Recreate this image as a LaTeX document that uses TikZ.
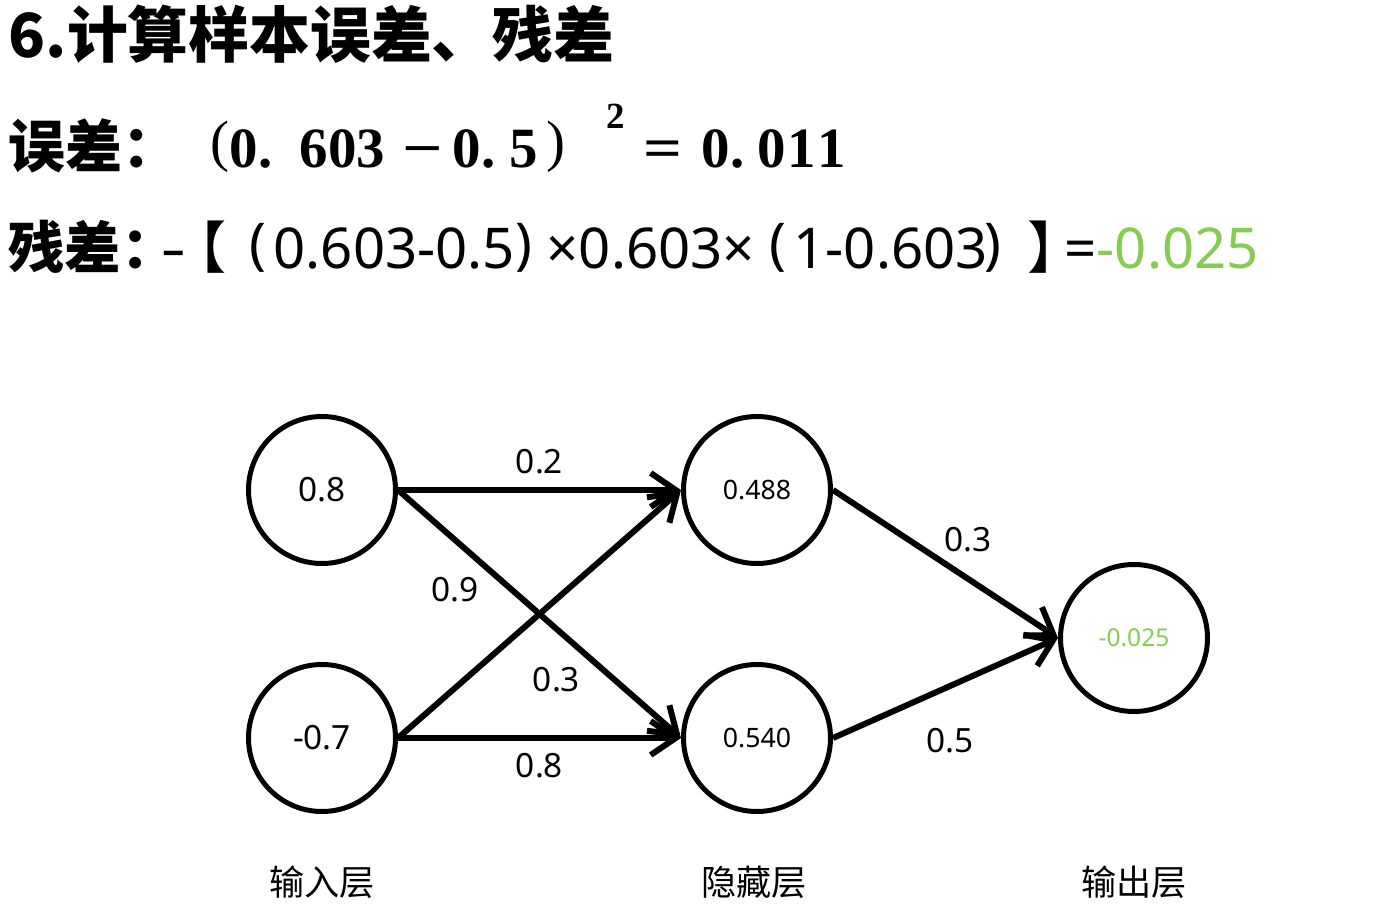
\documentclass[tikz,border=0pt]{standalone}
\usepackage{fontspec}
\usepackage{graphicx}
\setmainfont{Noto Sans}
\newfontfamily\cjk{Noto Sans CJK SC}
\newfontfamily\cjkhalf{Noto Sans CJK SC}[RawFeature=+halt]
\newfontfamily\numserif{Liberation Serif}
\usetikzlibrary{arrows.meta}
\definecolor{resgreen}{RGB}{132,204,84}
\newcommand{\fixseg}[2]{\makebox[#1][l]{#2}}

\begin{document}
\begin{tikzpicture}[
		neuron/.style={circle, draw=black, line width=0.05cm, minimum size=1.47cm, inner sep=0pt, font=\fontsize{9.5pt}{11pt}\selectfont},
		smallval/.style={font=\fontsize{7.6pt}{9pt}\selectfont},
		weight/.style={-{Straight Barb[length=0.25cm,width=0.34cm]}, line width=0.06cm},
		wlbl/.style={font=\fontsize{9.5pt}{11pt}\selectfont, inner sep=0pt},
		layerlbl/.style={font=\cjk\fontsize{10pt}{12pt}\selectfont, inner sep=0pt}
	]
			\useasboundingbox (0,0) rectangle (13.79,-9.18);
			
			% heading and the two formulas
			\node[anchor=base west, inner sep=0pt] (title) at (0.08,-0.57) {\cjk\bfseries\fontsize{17.3pt}{20pt}\selectfont 6.计算样本误差、残差};
			\node[anchor=base west, inner sep=0pt] (err) at (0.08,-1.67) {\fontsize{16.2pt}{19pt}\selectfont\fixseg{2.02cm}{\cjk\bfseries 误差：}{\numserif\bfseries\fixseg{0.19cm}{\raisebox{0.06cm}{\mdseries(}}\fixseg{0.70cm}{0.}\fixseg{1.03cm}{603}\fixseg{0.50cm}{\scalebox{1.25}[1]{−}}\fixseg{0.57cm}{0.}\fixseg{0.365cm}{5}\fixseg{0.605cm}{\raisebox{0.06cm}{\mdseries)}}\fixseg{0.37cm}{\raisebox{0.39cm}{\fontsize{10.5pt}{12pt}\selectfont 2}}\fixseg{0.58cm}{\scalebox{1.2}[1]{=}}\fixseg{0.56cm}{0.}\fixseg{0.3cm}{0}\fixseg{0.3cm}{1}1}};
			\node[anchor=base west, inner sep=0pt] (res) at (0.08,-2.68) {\fontsize{16pt}{19pt}\selectfont\fixseg{1.54cm}{{\cjk\bfseries 残差}{\cjkhalf\bfseries ：}}\fixseg{0.36cm}{\scalebox{0.8}[1]{–}}\fixseg{0.51cm}{\cjkhalf 【}\fixseg{0.24cm}{\raisebox{0.05cm}{(}}\fixseg{2.42cm}{0.603-0.5}\fixseg{0.31cm}{\raisebox{0.05cm}{)}}\fixseg{2.23cm}{×0.603×}\fixseg{0.24cm}{\raisebox{0.05cm}{(}}\fixseg{1.91cm}{1-0.603}\fixseg{0.43cm}{\raisebox{0.05cm}{)}}\fixseg{0.37cm}{\cjkhalf 】}={\color{resgreen}-0.025}};
			
			% network
			\node[neuron] (in1) at (3.22,-4.90) {0.8};
			\node[neuron] (in2) at (3.22,-7.38) {-0.7};
			\node[neuron, smallval] (h1) at (7.57,-4.90) {0.488};
			\node[neuron, smallval] (h2) at (7.57,-7.38) {0.540};
			\node[neuron, text=resgreen, font=\fontsize{7pt}{8pt}\selectfont] (out) at (11.34,-6.38) {-0.025};
			
			\draw [weight] (in1.east) -- node[wlbl, midway, yshift=0.28cm] {0.2} (h1.west);
			\draw [weight] (in1.east) -- node[wlbl, pos=0.2, yshift=-0.50cm] {0.9} (h2.west);
			\draw [weight] (in2.east) -- node[wlbl, pos=0.56, yshift=-0.81cm] {0.3} (h1.west);
			\draw [weight] (in2.east) -- node[wlbl, midway, yshift=-0.28cm] {0.8} (h2.west);
			\draw [weight] (h1.east) -- node[wlbl, pos=0.6, yshift=0.39cm] {0.3} (out.west);
			\draw [weight] (h2.east) -- node[wlbl, pos=0.52, yshift=-0.55cm] {0.5} (out.west);
			
			\node[layerlbl] (lin) at (3.22,-8.82) {输入层};
			\node[layerlbl] (lhid) at (7.54,-8.82) {隐藏层};
			\node[layerlbl] (lout) at (11.34,-8.82) {输出层};
			
\end{tikzpicture}
\end{document}
